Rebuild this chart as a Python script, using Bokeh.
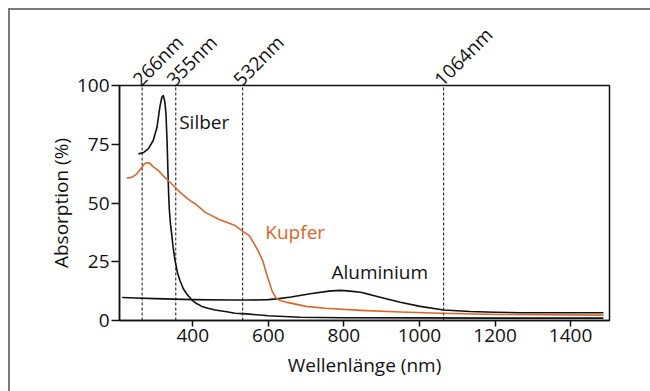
import math
from bokeh.plotting import figure
from bokeh.models import ColumnDataSource, LinearAxis, FixedTicker, Range1d
from bokeh.embed import file_html
from bokeh.resources import INLINE
from bokeh.core.properties import value

# ---- data ----
silber_x = [256, 270, 282, 295, 305, 313, 318, 322, 326, 329, 332, 334, 336, 338, 341, 344, 348, 353,
            360, 366, 375, 384, 397, 410, 424, 440, 459, 490, 512, 543, 600, 684, 800, 1000, 1200, 1487]
silber_y = [70.9, 71.5, 73, 76.5, 82, 91, 95, 95.7, 93, 88, 76, 64.5, 54, 47, 41, 37, 31, 25.5,
            20, 17, 13.5, 11.3, 8.8, 7.2, 6, 5.2, 4.5, 3.7, 3.1, 2.8, 2.0, 1.4, 1.2, 1.1, 1.0, 1.0]

kupfer_x = [225, 240, 252, 265, 275, 285, 295, 309, 325, 344, 370, 393, 406, 433, 470, 512, 532,
            550, 565, 575, 585, 595, 601, 610, 620, 630, 650, 700, 750, 844, 950, 1056, 1214, 1487]
kupfer_y = [60.5, 61, 62.4, 65.2, 67, 67.1, 65.5, 63.8, 61, 58.2, 54, 51, 49.7, 46, 43, 40.4, 38,
            36, 32, 29, 25.5, 20, 17, 12.5, 9.6, 8.6, 7.7, 6, 5.2, 4.3, 3.6, 3.1, 2.55, 2.3]

alu_x = [213, 250, 300, 400, 500, 550, 600, 622, 660, 711, 760, 790, 810, 844, 870, 896, 949,
         1002, 1064, 1134, 1200, 1267, 1487]
alu_y = [9.8, 9.6, 9.3, 8.9, 8.7, 8.7, 8.9, 9.2, 10, 11.4, 12.5, 12.8, 12.6, 12, 11, 9.9, 7.8,
         6, 4.5, 3.8, 3.5, 3.3, 3.3]

laser_nm = [266, 355, 532, 1064]
laser_labels = ["266nm", "355nm", "532nm", "1064nm"]

curve_names = ["Silber", "Kupfer", "Aluminium"]
curve_label_x = [364, 592, 767]
curve_label_y = [84.5, 37.8, 20.8]

x_ticks = [400, 600, 800, 1000, 1200, 1400]
y_ticks = [0, 25, 50, 75, 100]

BLACK = "#111111"
ORANGE = "#D8672B"
FONT = "Open Sans"

X0, X1 = 206, 1503
p = figure(width=650, height=391, output_backend="svg", toolbar_location=None,
           x_range=Range1d(X0, X1), y_range=Range1d(0, 100),
           min_border_left=119, min_border_right=41, min_border_top=85, min_border_bottom=71)
# the slanted labels start a few pixels left of their line
p.extra_x_ranges = {"labels": Range1d(X0 + 16, X1 + 16)}

p.styles = {
    "background-image": "linear-gradient(#7a7a7a,#7a7a7a), linear-gradient(#7a7a7a,#7a7a7a)",
    "background-size": "2px 100%, 100% 2px",
    "background-position": "8px 8px, 8px 8px",
    "background-repeat": "no-repeat",
}
p.border_fill_alpha = 0
p.background_fill_color = "white"
p.outline_line_color = BLACK
p.outline_line_width = 1.5
p.xgrid.visible = False
p.ygrid.visible = False

# dashed laser lines
p.segment(x0=laser_nm, y0=0, x1=laser_nm, y1=100, line_color=BLACK, line_width=1, line_dash="3 2")

# curves
p.line(alu_x, alu_y, line_color=BLACK, line_width=1.6, line_join="round")
p.line(silber_x, silber_y, line_color=BLACK, line_width=1.6, line_join="round")
p.line(kupfer_x, kupfer_y, line_color=ORANGE, line_width=1.6, line_join="round")

# curve labels
lab_src = ColumnDataSource(dict(x=curve_label_x, y=curve_label_y, t=curve_names,
                                c=[BLACK, ORANGE, BLACK]))
p.text(x="x", y="y", text="t", text_color="c", source=lab_src, text_font=value(FONT),
       text_font_size="19px", text_baseline="middle", text_align="left")

# styling of bottom / left axes
bottom = p.below[0]
left = p.left[0]
for ax in (bottom, left):
    ax.axis_line_color = BLACK
    ax.axis_line_width = 1.5
    ax.major_tick_line_color = BLACK
    ax.major_tick_line_width = 1.5
    ax.major_tick_in = 0
    ax.minor_tick_line_color = None
    ax.major_label_text_font = FONT
    ax.major_label_text_font_size = "19px"
    ax.major_label_text_color = BLACK
    ax.axis_label_text_font = FONT
    ax.axis_label_text_font_size = "19px"
    ax.axis_label_text_font_style = "normal"
    ax.axis_label_text_color = BLACK

bottom.ticker = FixedTicker(ticks=x_ticks)
left.ticker = FixedTicker(ticks=y_ticks)
bottom.major_tick_out = 6
left.major_tick_out = 8
bottom.major_label_standoff = 2
left.major_label_standoff = 2
bottom.axis_label = "Wellenlänge (nm)"
left.axis_label = "Absorption (%)"
bottom.axis_label_standoff = 7
left.axis_label_standoff = 0

# laser wavelength labels above the frame: a top axis with slanted labels
top_axis = LinearAxis(x_range_name="labels", ticker=FixedTicker(ticks=laser_nm),
                      major_label_overrides={k: v for k, v in zip(laser_nm, laser_labels)},
                      major_label_orientation=math.pi / 4,
                      axis_line_color=None, major_tick_line_color=None,
                      minor_tick_line_color=None, major_tick_in=0, major_tick_out=0,
                      major_label_standoff=3,
                      major_label_text_font=FONT, major_label_text_font_size="19px",
                      major_label_text_color=BLACK)
p.add_layout(top_axis, "above")

open("out.html", "w").write(file_html(p, INLINE))
